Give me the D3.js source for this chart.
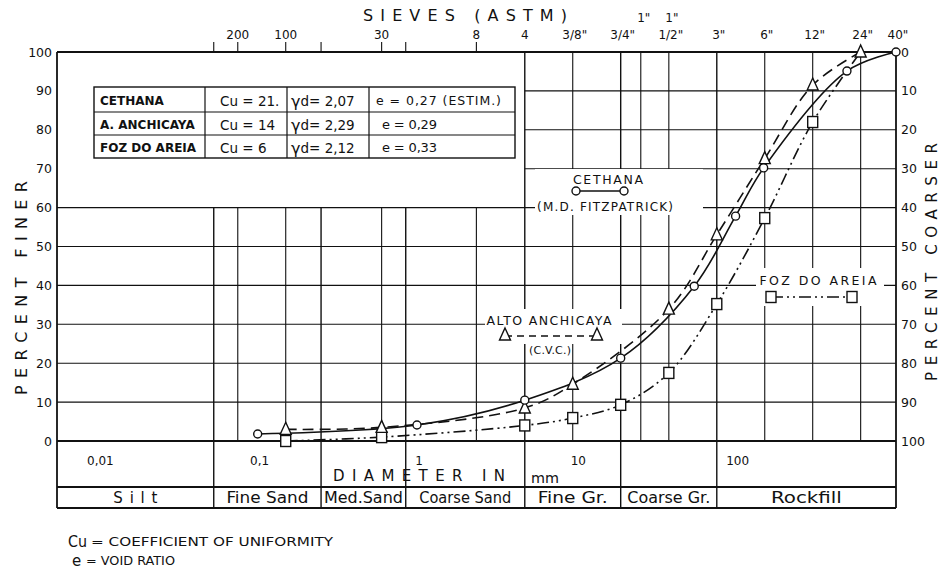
<!DOCTYPE html>
<html>
<head>
<meta charset="utf-8">
<script src="https://cdn.jsdelivr.net/npm/d3@7"></script>
<style>
  html, body { margin: 0; padding: 0; background: #fff; }
  svg { display: block; }
  text { font-family: "DejaVu Sans", "Liberation Sans", sans-serif; fill: #111; }
</style>
</head>
<body>
<svg id="chart" width="944" height="570"></svg>
<script>
// ---- Sieve openings (mm) marked along the top edge ----
const sieveSizes  = [0.053, 0.075, 0.15, 0.25, 0.6, 0.85, 2.36, 4.75, 9.5, 19, 25.4, 38.1, 76.2, 152.4, 304.8, 609.6, 1016];
const sieveLabels = ["", "200", "100", "", "30", "", "8", "4", "3/8\"", "3/4\"", "", "1/2\"", "3\"", "6\"", "12\"", "24\"", "40\""];
const sieveUpper  = ["", "", "", "", "", "", "", "", "", "", "1\"", "1\"", "", "", "", "", ""];

// ---- Percent ticks ----
const percentTicks = [0, 10, 20, 30, 40, 50, 60, 70, 80, 90, 100];

// ---- Diameter labels under the plot ----
const diameterTicks  = [0.01, 0.1, 1, 10, 100];
const diameterLabels = ["0,01", "0,1", "1", "10", "100"];

// ---- Soil / rock size classes ----
const zoneNames  = ["Silt", "Fine Sand", "Med.Sand", "Coarse Sand", "Fine Gr.", "Coarse Gr.", "Rockfill"];
const zoneBounds = [0.0055, 0.053, 0.25, 0.85, 4.75, 19, 76.2, 1016];

// ---- Gradation curves: diameter (mm) vs percent finer ----
const cethanaSize   = [0.1, 1, 4.75, 19, 55, 100, 150, 500, 1016];
const cethanaFiner  = [1.8, 4.1, 10.5, 21.3, 39.8, 57.8, 70.2, 95.1, 100];

const anchicayaSize  = [0.15, 0.6, 4.75, 9.5, 38.1, 76.2, 152.4, 304.8, 609.6];
const anchicayaFiner = [3.0, 3.5, 8.5, 14.6, 33.9, 53.0, 72.6, 91.5, 100];

const fozSize  = [0.15, 0.6, 4.75, 9.5, 19, 38.1, 76.2, 152.4, 304.8, 609.6];
const fozFiner = [0, 1.0, 4.0, 5.9, 9.3, 17.5, 35.2, 57.3, 82.0, 100];
const fozMarked = [true, true, true, true, true, true, true, true, true, false];

// ---- Summary table ----
const siteNames  = ["CETHANA", "A. ANCHICAYA", "FOZ DO AREIA"];
const cuValues   = ["21.", "14", " 6"];
const gammaD     = ["2,07", "2,29", "2,12"];
const voidRatio  = ["0,27", "0,29", "0,33"];
const voidNote   = ["(ESTIM.)", "", ""];

// ---- Legend text ----
const cethanaLegend   = ["CETHANA", "(M.D. FITZPATRICK)"];
const anchicayaLegend = ["ALTO ANCHICAYA", "(C.V.C.)"];
const fozLegend       = ["FOZ DO AREIA"];

const svg = d3.select("#chart");
svg.append("rect").attr("width", 944).attr("height", 570).attr("fill", "#fff");

const L = 57, R = 896, T = 52, Z = 441, ROW = 487, B = 508;
const splitSize = 4.75;   // finer grid above 60 % only right of sieve No. 4
const fullGridMax = 60;

const x = d3.scaleLog().domain([zoneBounds[0], 1016]).range([L, R]);
const y = d3.scaleLinear().domain([0, 100]).range([Z, T]);

const ink = "#111";

function label(g, str, px, py, o = {}) {
  const t = g.append("text")
    .attr("x", px).attr("y", py)
    .attr("text-anchor", o.anchor || "middle")
    .attr("dominant-baseline", "central")
    .attr("font-size", o.size || 12)
    .text(str);
  if (o.len) t.attr("textLength", o.len).attr("lengthAdjust", o.adjust || "spacing");
  if (o.family) t.attr("font-family", o.family);
  if (o.weight) t.attr("font-weight", o.weight);
  if (o.rotate) t.attr("transform", `rotate(${o.rotate},${px},${py})`);
  return t;
}

// ---- grid ----
const gridG = svg.append("g").attr("stroke", ink).attr("stroke-width", 1.1);
percentTicks.filter(p => p > 0 && p < 100).forEach(p => {
  gridG.append("line")
    .attr("x1", p <= fullGridMax ? L : x(splitSize)).attr("x2", R)
    .attr("y1", y(p)).attr("y2", y(p));
});
sieveSizes.slice(0, -1).forEach(s => {
  const isBound = zoneBounds.includes(s);
  gridG.append("line")
    .attr("x1", x(s)).attr("x2", x(s))
    .attr("y1", s >= splitSize ? T : y(fullGridMax))
    .attr("y2", isBound ? B : Z)
    .attr("stroke-width", isBound ? 1.4 : 1.1);
  if (s < splitSize) {
    gridG.append("line").attr("x1", x(s)).attr("x2", x(s)).attr("y1", T - 10).attr("y2", T);
  }
});

// ---- frame ----
const frameG = svg.append("g").attr("stroke", ink).attr("stroke-width", 1.8).attr("fill", "none");
frameG.append("line").attr("x1", L).attr("x2", R).attr("y1", T).attr("y2", T);
frameG.append("line").attr("x1", L).attr("x2", L).attr("y1", T).attr("y2", B);
frameG.append("line").attr("x1", R).attr("x2", R).attr("y1", T).attr("y2", B);
frameG.append("line").attr("x1", L).attr("x2", R).attr("y1", Z).attr("y2", Z);
frameG.append("line").attr("x1", L).attr("x2", R).attr("y1", ROW).attr("y2", ROW);
frameG.append("line").attr("x1", L).attr("x2", R).attr("y1", B).attr("y2", B);

// ---- top sieve axis ----
const sieveG = svg.append("g");
label(sieveG, "SIEVES (ASTM)", 465, 15, { size: 16, len: 204 });
sieveSizes.forEach((s, i) => {
  if (sieveLabels[i]) label(sieveG, sieveLabels[i], x(s) + (sieveLabels[i].includes("\"") ? 2 : 0), 35, { size: 12 });
  if (sieveUpper[i]) label(sieveG, sieveUpper[i], x(s) + 3, 18, { size: 12 });
});

// ---- left and right percent axes ----
const axesG = svg.append("g");
percentTicks.forEach(p => {
  label(axesG, String(p), 52, y(p), { anchor: "end", size: 12.5 });
  label(axesG, String(100 - p), 901, y(p), { anchor: "start", size: 12.5 });
});
label(axesG, "PERCENT FINER", 21, 288, { size: 16, len: 214, rotate: -90 });
label(axesG, "PERCENT COARSER", 932, 262, { size: 15, len: 238, rotate: -90 });

// ---- bottom diameter labels and size classes ----
const bottomG = svg.append("g");
diameterTicks.forEach((d, i) => label(bottomG, diameterLabels[i], x(d) + 2, 461, { size: 12 }));
label(bottomG, "DIAMETER IN", 419, 476, { size: 15, len: 172 });
label(bottomG, "mm", 545, 478, { size: 14, len: 28, adjust: "spacingAndGlyphs" });
const zoneWidths = [44, 82, 79, 92, 70, 83, 71];
zoneNames.forEach((n, i) => {
  const cx = (x(zoneBounds[i]) + x(zoneBounds[i + 1])) / 2;
  label(bottomG, n, cx, 498, { size: 15, len: zoneWidths[i], adjust: i === 0 ? "spacing" : "spacingAndGlyphs" });
});

// ---- summary table ----
const tbl = svg.append("g");
const colX = [94, 205, 287, 369, 515];
const rowY = [87, 112, 135, 158];
tbl.append("rect").attr("x", colX[0]).attr("y", rowY[0])
  .attr("width", colX[4] - colX[0]).attr("height", rowY[3] - rowY[0])
  .attr("fill", "#fff").attr("stroke", ink).attr("stroke-width", 1.4);
rowY.slice(1, 3).forEach(ry => tbl.append("line").attr("x1", colX[0]).attr("x2", colX[4])
  .attr("y1", ry).attr("y2", ry).attr("stroke", ink).attr("stroke-width", 1.2));
colX.slice(1, 4).forEach(cx => tbl.append("line").attr("x1", cx).attr("x2", cx)
  .attr("y1", rowY[0]).attr("y2", rowY[3]).attr("stroke", ink).attr("stroke-width", 1.2));
siteNames.forEach((n, i) => {
  const cy = (rowY[i] + rowY[i + 1]) / 2 + 1;
  label(tbl, n, 100, cy, { anchor: "start", size: 12, weight: "bold" });
  label(tbl, "Cu = " + cuValues[i], 220, cy, { anchor: "start", size: 13.5 });
  const g = tbl.append("text").attr("x", 291).attr("y", cy).attr("dominant-baseline", "central").attr("font-size", 13.5);
  g.append("tspan").attr("font-size", 16).text("γ");
  g.append("tspan").text("d= " + gammaD[i]);
  if (voidNote[i]) {
    label(tbl, "e = " + voidRatio[i] + " " + voidNote[i], 376, cy, { anchor: "start", size: 12.5, len: 125 });
  } else {
    label(tbl, "e = " + voidRatio[i], 382, cy, { anchor: "start", size: 13, len: 55 });
  }
});

// ---- legends (white panels interrupt the grid) ----
const leg = svg.append("g");
function panel(x0, y0, w, h) {
  leg.append("rect").attr("x", x0).attr("y", y0).attr("width", w).attr("height", h).attr("fill", "#fff");
}
panel(535, 169, 168, 46);
panel(485, 309, 137, 35);
panel(756, 268, 128, 38);

// ---- markers ----
function circleMark(g, px, py) {
  g.append("circle").attr("cx", px).attr("cy", py).attr("r", 4)
    .attr("fill", "#fff").attr("stroke", ink).attr("stroke-width", 1.4);
}
function triMark(g, px, py) {
  g.append("path").attr("d", `M${px},${py - 7}L${px + 5.5},${py + 5}L${px - 5.5},${py + 5}Z`)
    .attr("fill", "#fff").attr("stroke", ink).attr("stroke-width", 1.4);
}
function squareMark(g, px, py) {
  g.append("rect").attr("x", px - 5).attr("y", py - 5.5).attr("width", 10).attr("height", 11)
    .attr("fill", "#fff").attr("stroke", ink).attr("stroke-width", 1.4);
}

const curve = d3.line().x(d => x(d[0])).y(d => y(d[1])).curve(d3.curveCatmullRom.alpha(0.5));
const seriesG = svg.append("g").attr("fill", "none").attr("stroke", ink).attr("stroke-width", 1.6);

seriesG.append("path").attr("d", curve(d3.zip(fozSize, fozFiner))).attr("stroke-dasharray", "12,4,2,4,2,4");
seriesG.append("path").attr("d", curve(d3.zip(anchicayaSize, anchicayaFiner))).attr("stroke-dasharray", "11,6");
seriesG.append("path").attr("d", curve(d3.zip(cethanaSize, cethanaFiner)));

const marks = svg.append("g");
fozSize.forEach((s, i) => { if (fozMarked[i]) squareMark(marks, x(s), y(fozFiner[i])); });
anchicayaSize.forEach((s, i) => triMark(marks, x(s), y(anchicayaFiner[i])));
cethanaSize.forEach((s, i) => circleMark(marks, x(s), y(cethanaFiner[i])));

// legend contents
label(leg, cethanaLegend[0], 608, 179, { size: 12.5, len: 70 });
leg.append("line").attr("x1", 576).attr("x2", 624).attr("y1", 191).attr("y2", 191).attr("stroke", ink).attr("stroke-width", 1.6);
circleMark(leg, 576, 191); circleMark(leg, 624, 191);
label(leg, cethanaLegend[1], 605, 207, { size: 12, len: 136 });

label(leg, anchicayaLegend[0], 549, 320, { size: 12.5, len: 125 });
leg.append("line").attr("x1", 505).attr("x2", 597).attr("y1", 336).attr("y2", 336)
  .attr("stroke", ink).attr("stroke-width", 1.6).attr("stroke-dasharray", "7,5");
triMark(leg, 505, 335); triMark(leg, 597, 335);
label(leg, anchicayaLegend[1], 550, 350, { size: 11, len: 42 });

label(leg, fozLegend[0], 818, 280, { size: 12.5, len: 117 });
leg.append("line").attr("x1", 771).attr("x2", 852).attr("y1", 297).attr("y2", 297)
  .attr("stroke", ink).attr("stroke-width", 1.6).attr("stroke-dasharray", "12,4,2,4,2,4");
squareMark(leg, 771, 297); squareMark(leg, 852, 297);

// ---- notes ----
const notes = svg.append("g");
notes.append("text").attr("x", 68).attr("y", 547).attr("font-size", 15)
  .attr("textLength", 19).attr("lengthAdjust", "spacingAndGlyphs").text("Cu");
notes.append("text").attr("x", 91).attr("y", 546).attr("font-size", 11.5)
  .attr("textLength", 242).attr("lengthAdjust", "spacingAndGlyphs").text("= COEFFICIENT OF UNIFORMITY");
notes.append("text").attr("x", 72).attr("y", 566).attr("font-size", 15).text("e");
notes.append("text").attr("x", 86).attr("y", 565).attr("font-size", 11.5)
  .attr("textLength", 89).attr("lengthAdjust", "spacingAndGlyphs").text("= VOID RATIO");
</script>
</body>
</html>
